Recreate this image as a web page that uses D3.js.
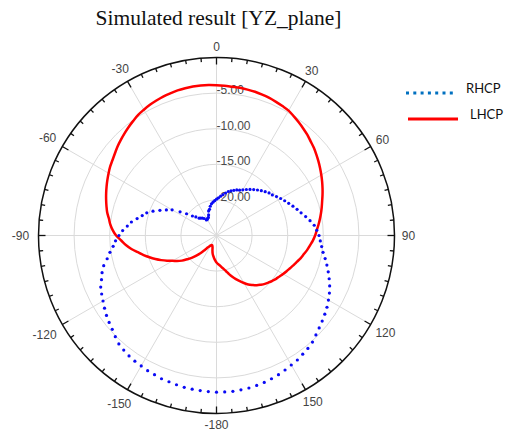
<!DOCTYPE html>
<html lang="en">
<head>
<meta charset="UTF-8">
<title>Simulated result [YZ_plane]</title>
<script src="https://d3js.org/d3.v7.min.js"></script>
<style>
  body { margin: 0; background: #fff; }
</style>
</head>
<body>
<svg id="chart" width="512" height="432"></svg>
<script>
// angles in degrees, clockwise from top, 3 deg step
const angles = d3.range(-180, 180, 3);

const lhcp = [
  -21.2, -21.5, -21.8, -22.1, -22.4, -22.8, -23.2, -23.4, -23.5, -23.5,
  -23.4, -23.2, -22.9, -22.4, -21.7, -21.0, -20.3, -19.7, -19.0, -18.4,
  -17.9, -17.2, -16.5, -15.8, -15.1, -14.4, -13.7, -12.9, -12.2, -11.6,
  -10.9, -10.4, -10.0, -9.7, -9.3, -9.0, -8.7, -8.4, -8.1, -7.8,
  -7.5, -7.2, -6.95, -6.65, -6.3, -6.0, -5.7, -5.4, -5.1, -4.8,
  -4.6, -4.4, -4.25, -4.1, -4.0, -3.9, -3.85, -3.8, -3.8, -3.85,
  -3.9, -3.95, -4.0, -4.0, -4.05, -4.1, -4.2, -4.3, -4.45, -4.6,
  -4.75, -5.05, -5.35, -5.65, -5.95, -6.3, -6.6, -6.95, -7.3, -7.65,
  -8.0, -8.35, -8.7, -9.05, -9.4, -9.7, -10.0, -10.3, -10.6, -10.9,
  -11.15, -11.45, -11.8, -12.1, -12.45, -12.75, -13.1, -13.4, -13.7, -13.95,
  -14.2, -14.45, -14.65, -14.9, -15.15, -15.4, -15.7, -16.0, -16.4, -16.8,
  -17.3, -17.8, -18.3, -18.8, -19.3, -19.8, -20.2, -20.5, -20.8, -21.0
];

const rhcp = [
  -3.0, -3.05, -3.1, -3.15, -3.2, -3.3, -3.4, -3.45, -3.6, -3.7,
  -3.85, -3.95, -4.1, -4.3, -4.5, -4.9, -5.3, -5.6, -5.9, -6.25,
  -6.6, -6.9, -7.2, -7.7, -8.1, -8.6, -9.3, -9.85, -10.4, -10.8,
  -11.3, -11.8, -12.4, -12.9, -13.6, -14.2, -14.7, -15.45, -16.3, -17.1,
  -17.8, -18.9, -19.8, -20.65, -21.1, -21.55, -21.7, -21.85, -22.05, -22.4,
  -22.4, -22.3, -22.2, -21.9, -21.4, -21.2, -20.8, -20.5, -20.3, -20.1,
  -19.9, -19.7, -19.45, -19.2, -18.9, -18.6, -18.4, -18.2, -18.0, -17.85,
  -17.6, -17.3, -17.0, -16.7, -16.4, -16.1, -15.8, -15.5, -15.3, -14.95,
  -14.6, -14.25, -13.9, -13.5, -13.1, -12.7, -12.2, -11.7, -11.2, -10.9,
  -10.6, -10.4, -10.15, -9.85, -9.4, -8.95, -8.5, -8.05, -7.6, -7.2,
  -6.85, -6.5, -6.2, -5.9, -5.6, -5.25, -4.85, -4.6, -4.4, -4.15,
  -4.0, -3.8, -3.6, -3.45, -3.3, -3.2, -3.1, -3.05, -3.0, -3.0
];

const ringValues = [-20, -15, -10, -5];
const ringLabels = ['-20.00', '-15.00', '-10.00', '-5.00'];
const spokeAngles = d3.range(0, 360, 30);
const angleLabels = [0, 30, 60, 90, 120, 150, -180, -150, -120, -90, -60, -30];
const legendNames = ['RHCP', 'LHCP'];

const cx = 216.5, cy = 235.5, R = 178;
const rad = d => d * Math.PI / 180;

const r = d3.scaleLinear().domain([-25, 0]).range([0, R]);

const svg = d3.select('#chart');

// title
svg.append('text')
  .attr('x', 218.5)
  .attr('y', 25)
  .attr('text-anchor', 'middle')
  .style('font-family', '"Liberation Serif", "Times New Roman", serif')
  .style('font-size', '21.5px')
  .attr('fill', '#111')
  .text('Simulated result [YZ_plane]');

const g = svg.append('g').attr('transform', `translate(${cx},${cy})`);

// grid rings
g.selectAll('.ring')
  .data(ringValues)
  .enter()
  .append('circle')
  .attr('class', 'ring')
  .attr('r', d => r(d))
  .attr('fill', 'none')
  .attr('stroke', '#dadada')
  .attr('stroke-width', 1);

// spokes
g.selectAll('.spoke')
  .data(spokeAngles)
  .enter()
  .append('line')
  .attr('class', 'spoke')
  .attr('x1', 0).attr('y1', 0)
  .attr('x2', d => d3.pointRadial(rad(d), R)[0])
  .attr('y2', d => d3.pointRadial(rad(d), R)[1])
  .attr('stroke', '#dadada')
  .attr('stroke-width', 1);

// outer circle
g.append('circle')
  .attr('r', R)
  .attr('fill', 'none')
  .attr('stroke', '#111')
  .attr('stroke-width', 1.5);

// ticks every 5 deg, longer every 30
g.selectAll('.tick')
  .data(d3.range(0, 360, 5))
  .enter()
  .append('line')
  .attr('class', 'tick')
  .attr('x1', d => d3.pointRadial(rad(d), R)[0])
  .attr('y1', d => d3.pointRadial(rad(d), R)[1])
  .attr('x2', d => d3.pointRadial(rad(d), R - (d % 30 === 0 ? 7 : 4))[0])
  .attr('y2', d => d3.pointRadial(rad(d), R - (d % 30 === 0 ? 7 : 4))[1])
  .attr('stroke', '#111')
  .attr('stroke-width', 1.3);

// angle labels
g.selectAll('.alabel')
  .data(angleLabels)
  .enter()
  .append('text')
  .attr('class', 'alabel')
  .each(function(d) {
    const s = String(d);
    const k = Math.abs(Math.sin(rad(d)));
    const off = 189 + 3 * k + (s.length - 2) * 4 * k;
    const p = d3.pointRadial(rad(d), off);
    d3.select(this).attr('x', p[0]).attr('y', p[1]);
  })
  .attr('text-anchor', 'middle')
  .attr('dominant-baseline', 'central')
  .style('font-family', '"Liberation Sans", Arial, sans-serif')
  .style('font-size', '12px')
  .attr('fill', '#444')
  .text(d => d);

// ring labels
g.selectAll('.rlabel')
  .data(ringValues)
  .enter()
  .append('text')
  .attr('class', 'rlabel')
  .attr('x', 0)
  .attr('y', d => -r(d) + 1)
  .style('font-family', '"Liberation Sans", Arial, sans-serif')
  .style('font-size', '12px')
  .attr('fill', '#4a4a4a')
  .text((d, i) => ringLabels[i]);

// LHCP solid red
const lhcpData = angles.map((a, i) => [rad(a), r(lhcp[i])]);
g.append('path')
  .datum(lhcpData)
  .attr('d', d3.lineRadial().angle(d => d[0]).radius(d => d[1]).curve(d3.curveCardinalClosed))
  .attr('fill', 'none')
  .attr('stroke', '#ff0000')
  .attr('stroke-width', 2.5);

// RHCP dotted blue (one marker per sample)
g.selectAll('.rdot')
  .data(angles.map((a, i) => d3.pointRadial(rad(a), r(rhcp[i]))))
  .enter()
  .append('circle')
  .attr('class', 'rdot')
  .attr('cx', d => d[0])
  .attr('cy', d => d[1])
  .attr('r', 1.6)
  .attr('fill', '#0a0af5');

// legend
const legend = svg.append('g');
legend.append('line')
  .attr('x1', 406).attr('x2', 456).attr('y1', 93).attr('y2', 93)
  .attr('stroke', '#0070c0').attr('stroke-width', 3)
  .attr('stroke-dasharray', '3,4.3');
legend.append('line')
  .attr('x1', 408).attr('x2', 458).attr('y1', 119).attr('y2', 119)
  .attr('stroke', '#ff0000').attr('stroke-width', 3);
legend.selectAll('.ltext')
  .data(legendNames)
  .enter()
  .append('text')
  .attr('class', 'ltext')
  .attr('x', (d, i) => i === 0 ? 466 : 470)
  .attr('y', (d, i) => i === 0 ? 93 : 119)
  .style('font-family', 'Lato, "Open Sans", sans-serif')
  .style('font-size', '13px')
  .attr('fill', '#111')
  .text(d => d);
</script>
</body>
</html>
